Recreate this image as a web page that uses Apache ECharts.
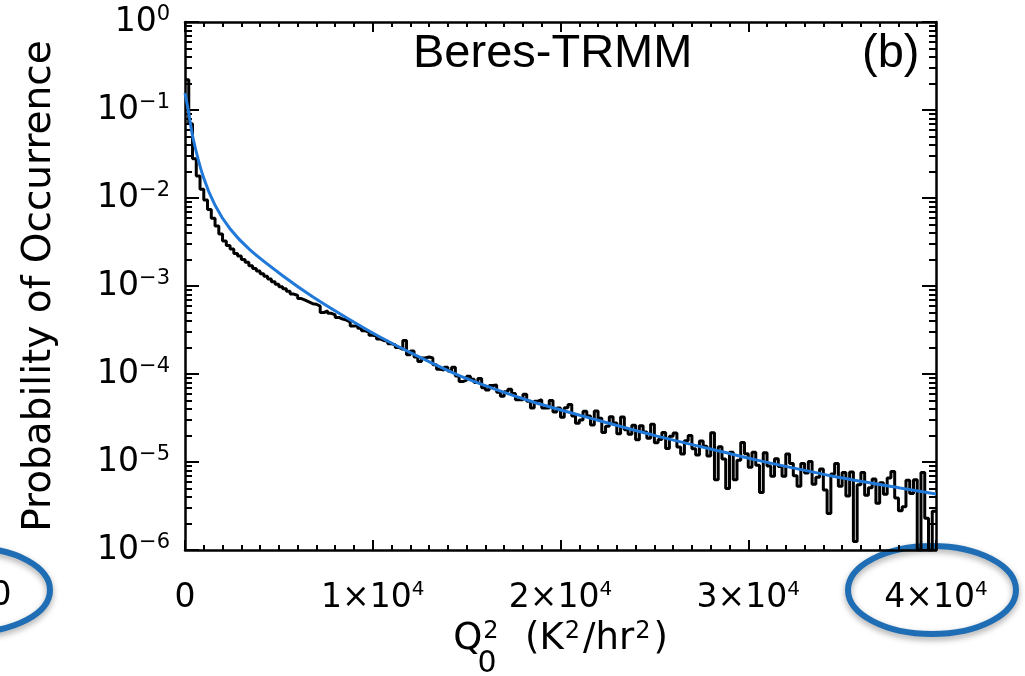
<!DOCTYPE html>
<html><head><meta charset="utf-8">
<script src="https://cdn.jsdelivr.net/npm/echarts@6/dist/echarts.min.js"></script>
<style>html,body{margin:0;padding:0;background:#fff;overflow:hidden}#c{width:1025px;height:676px}</style>
</head><body><div id="c"></div>
<script>
// ---- data ----
const xMin = 0, xMax = 40000, xMajor = 10000;
const yMin = 1e-6, yMax = 1;
const binWidth = 200; // histogram bin width (Q0^2 units)
const histValues = [
  0.22, 0.07, 0.028, 0.0178, 0.0126, 0.0095, 0.0074, 0.0059, 0.0048, 0.0039,
  0.00324, 0.00288, 0.00263, 0.00234, 0.00219, 0.00200, 0.00186, 0.00170, 0.00158, 0.00148,
  0.00138, 0.00129, 0.00120, 0.00112, 0.00105, 9.8e-4, 9.3e-4, 8.7e-4, 8.1e-4, 7.8e-4,
  7.2e-4, 6.9e-4, 6.6e-4, 6.3e-4, 6.2e-4, 5.9e-4, 5.0e-4, 5.2e-4, 4.9e-4, 4.7e-4,
  4.4e-4, 4.2e-4, 4.1e-4, 3.9e-4, 3.5e-4, 3.55e-4, 3.3e-4, 3.1e-4, 3.0e-4, 2.75e-4,
  2.7e-4, 2.5e-4, 2.4e-4, 2.35e-4, 2.2e-4, 2.15e-4, 2.0e-4, 1.9e-4, 2.4e-4, 1.66e-4,
  1.82e-4, 1.56e-4, 1.39e-4, 1.52e-4, 1.56e-4, 1.52e-4, 1.27e-4, 1.13e-4, 1.11e-4, 1.19e-4,
  1.08e-4, 1.19e-4, 9.5e-5, 8.2e-5, 8.5e-5, 9.4e-5, 8.7e-5, 8.0e-5, 8.9e-5, 7.0e-5,
  6.6e-5, 7.4e-5, 7.5e-5, 6.2e-5, 5.6e-5, 6.3e-5, 6.7e-5, 6.0e-5, 5.1e-5, 5.1e-5,
  5.9e-5, 4.9e-5, 4.1e-5, 4.9e-5, 5.1e-5, 4.1e-5, 4.1e-5, 5.0e-5, 3.7e-5, 4.1e-5,
  3.23e-5, 4.14e-5, 4.5e-5, 3.33e-5, 2.75e-5, 3.0e-5, 3.77e-5, 3.34e-5, 2.64e-5, 3.8e-5,
  3.15e-5, 2.17e-5, 2.54e-5, 3.27e-5, 2.77e-5, 2.09e-5, 3.24e-5, 2.33e-5, 2.07e-5, 2.61e-5,
  1.79e-5, 2.59e-5, 2.19e-5, 1.86e-5, 2.69e-5, 1.65e-5, 1.8e-5, 2.16e-5, 1.42e-5, 1.96e-5,
  2.14e-5, 1.48e-5, 1.23e-5, 1.74e-5, 2.0e-5, 1.41e-5, 1.2e-5, 1.73e-5, 1.51e-5, 1.17e-5,
  2.15e-5, 6.3e-6, 1.49e-5, 1.08e-5, 5.0e-6, 1.29e-5, 6.3e-6, 1.05e-5, 1.67e-5, 1.24e-5,
  8.7e-6, 1.29e-5, 9.2e-6, 4.5e-6, 1.27e-5, 9.0e-6, 6.9e-6, 1.09e-5, 8.9e-6, 6.9e-6,
  1.23e-5, 9.6e-6, 7.0e-6, 5.3e-6, 9.6e-6, 7.5e-6, 1.01e-5, 5.6e-6, 6.7e-6, 8.3e-6,
  4.8e-6, 2.6e-6, 7.3e-6, 9.6e-6, 5.3e-6, 7.6e-6, 4.1e-6, 7.7e-6, 1.25e-6, 5.5e-6,
  7.6e-6, 4.2e-6, 5.1e-6, 6.4e-6, 3.4e-6, 5.8e-6, 4.3e-6, 6.6e-6, 7.8e-6, 3.9e-6,
  2.8e-6, 3.1e-6, 6.2e-6, 4.4e-6, 6.3e-6, 1.0e-6, 7.6e-6, 2.3e-6, 1.0e-6, 2.75e-6
];
const fitX = [0, 160, 426, 959, 1598, 2397, 3462, 5220, 6818, 8628, 10386, 12144,
  14807, 18375, 21944, 25140, 28655, 30466, 34514, 38083, 40000];
const fitY = [0.156, 0.103, 0.0481, 0.0178, 0.0083, 0.00447, 0.00257, 0.0013, 7.5e-4, 4.33e-4,
  2.63e-4, 1.69e-4, 9.2e-5, 4.93e-5, 3.0e-5, 1.97e-5, 1.3e-5, 1.05e-5, 6.9e-6, 5.07e-6, 4.33e-6];
const titleText = 'Beres-TRMM';
const panelText = '(b)';
const yAxisTitle = 'Probability of Occurrence';

// ---- build series data ----
const histData = histValues.map((v, i) => [xMin + i * binWidth, v]);
histData.push([xMin + histValues.length * binWidth, histValues[histValues.length - 1]]);
const fitData = fitX.map((x, i) => [x, fitY[i]]);

const FF = 'DejaVu Sans';
const yRich = {
  b: { fontSize: 33, fontFamily: FF, color: '#000', lineHeight: 36 },
  s: { fontSize: 21, fontFamily: FF, color: '#000', lineHeight: 15, verticalAlign: 'top' }
};
const xRich = {
  b: { fontSize: 33, fontFamily: FF, color: '#000', lineHeight: 36 },
  s: { fontSize: 20, fontFamily: FF, color: '#000', lineHeight: 14, verticalAlign: 'top' }
};
const nameRich = {
  b: { fontSize: 37, fontFamily: FF, color: '#000', lineHeight: 40 },
  s: { fontSize: 24, fontFamily: FF, color: '#000', lineHeight: 16, verticalAlign: 'top', padding: [0, 3, 0, 1] }
};
function yFmt(v) {
  const e = Math.round(Math.log10(v));
  return '{b|10}{s|' + (e < 0 ? '\u2212' + (-e) : e) + '}';
}
function xFmt(v) {
  if (v === 0) return '{b|0}';
  return '{b|' + (v / xMajor) + '\u00d710}{s|4}';
}
const lineStyle = { color: '#000', width: 2.5 };
const tickStyle = { color: '#000', width: 2 };

const chart = echarts.init(document.getElementById('c'));
chart.setOption({
  animation: false,
  backgroundColor: '#fff',
  grid: { left: 185, right: 89, top: 22, bottom: 126, outerBoundsMode: 'none' },
  xAxis: [{
    type: 'value', min: xMin, max: xMax, interval: xMajor, position: 'bottom',
    axisLine: { show: true, onZero: false, lineStyle: lineStyle },
    axisTick: { show: true, inside: true, length: 10, lineStyle: tickStyle },
    minorTick: { show: true, splitNumber: 10, length: 5, lineStyle: tickStyle },
    splitLine: { show: false },
    axisLabel: { margin: 30, formatter: xFmt, rich: xRich },
    name: '{b|Q}{s|2}{b|  (K}{s|2}{b|/hr}{s|2}{b|)}',
    nameLocation: 'middle', nameGap: 69, nameTextStyle: { rich: nameRich }
  }, {
    type: 'value', min: xMin, max: xMax, interval: xMajor, position: 'top',
    axisLine: { show: true, onZero: false, lineStyle: lineStyle },
    axisTick: { show: true, inside: true, length: 10, lineStyle: tickStyle },
    minorTick: { show: true, splitNumber: 10, length: 5, lineStyle: tickStyle },
    splitLine: { show: false }, axisLabel: { show: false }
  }],
  yAxis: [{
    type: 'log', logBase: 10, min: yMin, max: yMax, position: 'left',
    axisLine: { show: true, onZero: false, lineStyle: lineStyle },
    axisTick: { show: true, inside: true, length: 14, lineStyle: tickStyle },
    minorTick: { show: true, splitNumber: 9, length: 7, lineStyle: tickStyle },
    splitLine: { show: false },
    axisLabel: { margin: 15, formatter: yFmt, rich: yRich },
    name: yAxisTitle, nameLocation: 'middle', nameGap: 126, nameRotate: 90,
    nameTextStyle: { fontSize: 39, fontFamily: FF, color: '#000' }
  }, {
    type: 'log', logBase: 10, min: yMin, max: yMax, position: 'right',
    axisLine: { show: true, onZero: false, lineStyle: lineStyle },
    axisTick: { show: true, inside: true, length: 14, lineStyle: tickStyle },
    minorTick: { show: true, splitNumber: 9, length: 7, lineStyle: tickStyle },
    splitLine: { show: false }, axisLabel: { show: false }
  }],
  series: [{
    type: 'line', data: histData, step: 'end', showSymbol: false, symbol: 'none',
    lineStyle: { color: '#000', width: 3 }, clip: true, z: 2
  }, {
    type: 'line', data: fitData, smooth: 0.25, showSymbol: false, symbol: 'none',
    lineStyle: { color: '#2079d8', width: 3 }, clip: true, z: 3
  }],
  graphic: [
    { type: 'text', left: 413, top: 31, style: { text: titleText, fontSize: 47, fontFamily: 'Liberation Sans', fill: '#000' } },
    { type: 'text', left: 862, top: 31, style: { text: panelText, fontSize: 47, fontFamily: 'Liberation Sans', fill: '#000' } },
    { type: 'text', x: 487, y: 664, style: { text: '0', fontSize: 30, fontFamily: FF, fill: '#000', align: 'center', verticalAlign: 'middle' } },
    { type: 'text', x: 1, y: 596, style: { text: '0', fontSize: 33, fontFamily: FF, fill: '#000', align: 'center', verticalAlign: 'middle' } },
    { type: 'ellipse', shape: { cx: -28, cy: 590, rx: 78, ry: 42 },
      style: { fill: 'none', stroke: '#1f6db5', lineWidth: 6, shadowBlur: 6, shadowColor: 'rgba(0,0,0,0.35)', shadowOffsetY: 3 } },
    { type: 'ellipse', shape: { cx: 932, cy: 590, rx: 84, ry: 44 },
      style: { fill: 'none', stroke: '#1f6db5', lineWidth: 6, shadowBlur: 6, shadowColor: 'rgba(0,0,0,0.35)', shadowOffsetY: 3 } }
  ]
});
</script>
</body></html>
